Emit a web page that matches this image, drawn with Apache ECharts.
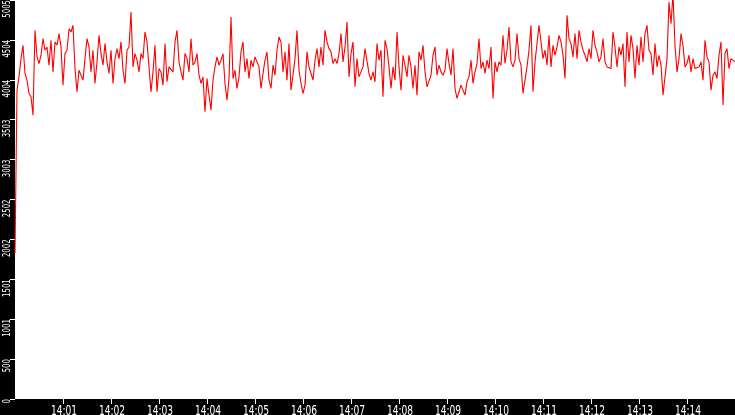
<!DOCTYPE html>
<html><head><meta charset="utf-8">
<script src="https://cdn.jsdelivr.net/npm/echarts@6/dist/echarts.min.js"></script>
<style>html,body{margin:0;padding:0;background:#000;}#c{width:735px;height:415px;}</style>
</head><body><div id="c"></div>
<script>
// x axis in seconds after 14:00:00, one sample every 2.5 s, axis spans 14:00 .. 14:15
const stepSeconds = 2.5;
const xTickSeconds = [60,120,180,240,300,360,420,480,540,600,660,720,780,840];
const xTickLabels = ['14:01','14:02','14:03','14:04','14:05','14:06','14:07','14:08','14:09','14:10','14:11','14:12','14:13','14:14'];
const yTickValues = [0,500.5,1001,1501.5,2002,2502.5,3003,3503.5,4004,4504.5,5005];
const yTickLabels = ['0','500','1001','1501','2002','2502','3003','3503','4004','4504','5005'];

// 14:00:00 - 14:02:30
const seg1 = [1830,3874,4041,4270,4437,4083,4000,3832,3791,3561,4625,4291,4208,4312,4520,4375,4416,4187,4500,4103,
  4479,4437,4583,4416,3937,4333,4375,4645,4604,4687,4145,3853,4124,4103,4000,4270,4520,4416,4103,4375,
  3958,4229,4562,4333,4187,4458,4229,4083,4375,3958,4270,4395,4270,4479,4124,3958,4375,4416,4854,4166];
// 14:02:30 - 14:05:00
const seg2 = [4333,4250,4103,4333,4270,4604,4479,4166,3853,4103,4437,3853,4145,4103,3937,4458,3979,4166,4187,4103,
  4479,4625,4229,4103,4000,4333,4270,4103,4520,4187,4229,4333,4062,3958,4041,3603,4020,3812,3624,4000,
  4166,4291,4187,4250,4333,3958,3749,4020,4791,4020,4124,3895,4041,4354,4479,4103,4270,4020,4250,4166];
// 14:05:00 - 14:07:30
const seg3 = [4291,4229,4166,3895,4083,4250,4354,4000,3895,4187,4062,4375,4541,4479,4103,4354,4000,4458,3874,4062,
  4270,4625,4124,3958,3832,3937,4354,4166,4083,4000,4250,4395,4166,4416,4187,4625,4479,4395,4354,4208,
  4270,4208,4333,4583,4229,4416,4729,4041,4333,4479,3916,4270,4041,4020,4166,4395,4375,4083,4000,4103];
// 14:07:30 - 14:10:00
const seg4 = [3979,4458,4250,4375,3791,4500,4395,4166,3895,4166,4000,4604,4166,3874,4312,4187,4041,4312,4166,3895,
  4187,3812,4354,4250,4437,4103,3916,3895,4062,4312,4416,4062,4187,4103,4062,4124,4395,4208,4062,4395,
  3895,3770,3853,3937,3874,3812,3979,4041,4250,3958,4103,4208,4520,4145,4229,4083,4250,4145,4416,3770];
// 14:10:00 - 14:12:30
const seg5 = [4229,4103,4229,4187,4562,4208,4375,4666,4229,4166,4250,4583,4270,4187,3832,4000,4166,4375,4687,3853,
  4229,4458,4687,4479,4270,4375,4187,4562,4166,4437,4312,4416,4562,4479,4312,4020,4812,4520,4458,4291,
  4583,4270,4625,4479,4375,4312,4229,4395,4270,4625,4437,4354,4229,4291,4520,4229,4166,4145,4145,4604];
// 14:12:30 - 14:15:00
const seg6 = [4416,4166,4416,4312,4458,3916,4604,4229,4562,4395,4020,4437,4187,4541,4229,4583,4687,4375,4333,4062,
  4458,4166,4312,4187,3812,4041,4270,4979,4708,5080,4437,4103,4270,4583,4437,4166,4208,4312,4103,4270,
  4145,4124,4166,4229,4000,4500,4291,4229,3874,4062,4103,4020,4312,4479,3687,4333,4395,4145,4270,4250,4229];

const values = [].concat(seg1, seg2, seg3, seg4, seg5, seg6);
const seriesData = values.map((v, i) => [i * stepSeconds, v]);

const font = '"DejaVu Sans", sans-serif';
const chart = echarts.init(document.getElementById('c'), null, {renderer: 'canvas'});
chart.setOption({
  animation: false,
  backgroundColor: '#000',
  grid: {left: 15, right: 0, top: 0, bottom: 16, show: true, backgroundColor: '#fff', borderWidth: 0},
  xAxis: {
    type: 'value',
    min: 0,
    max: 900,
    interval: 60,
    axisLine: {show: false},
    splitLine: {show: false},
    axisTick: {show: true, length: 5, lineStyle: {color: '#fff', width: 1}, customValues: xTickSeconds},
    axisLabel: {show: false}
  },
  yAxis: {
    type: 'value',
    min: 0, max: 5005, interval: 500.5,
    axisLine: {show: false},
    splitLine: {show: false},
    axisTick: {show: true, length: 5, lineStyle: {color: '#fff', width: 1}},
    axisLabel: {show: false}
  },
  series: [{
    type: 'line',
    data: seriesData,
    showSymbol: false,
    symbol: 'none',
    lineStyle: {color: '#ff0000', width: 1.1},
    clip: true
  }]
});

// Tick labels in a narrow (condensed) face, placed through the axes' own scales
const graphics = [];
xTickSeconds.forEach((s, i) => {
  const px = chart.convertToPixel({xAxisIndex: 0}, s);
  graphics.push({
    type: 'text', x: px + 1, y: 404, scaleX: 0.65, silent: true,
    style: {text: xTickLabels[i], fill: '#fff', font: '14px ' + font, align: 'center', verticalAlign: 'top'}
  });
});
yTickValues.forEach((v, i) => {
  const py = chart.convertToPixel({yAxisIndex: 0}, v);
  graphics.push({
    type: 'text', x: 12.5, y: py, rotation: Math.PI / 2, scaleX: 0.63, silent: true,
    style: {text: yTickLabels[i], fill: '#fff', font: '11px ' + font, align: 'right', verticalAlign: 'bottom'}
  });
});
chart.setOption({graphic: graphics});
</script></body></html>
